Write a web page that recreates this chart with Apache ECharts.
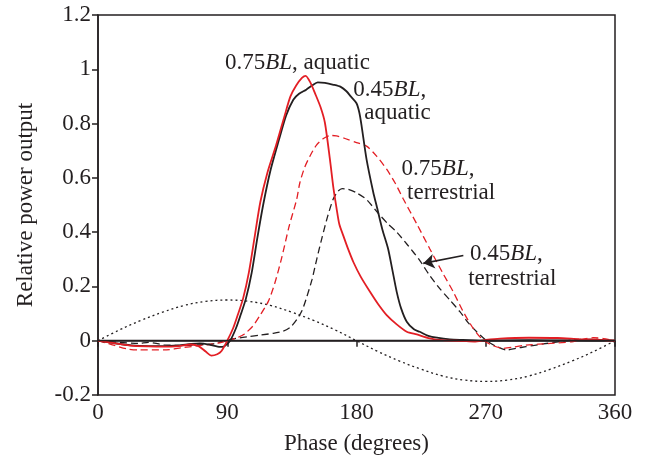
<!DOCTYPE html>
<html>
<head>
<meta charset="utf-8">
<script src="https://cdn.jsdelivr.net/npm/echarts@6/dist/echarts.min.js"></script>
<style>
html,body{margin:0;padding:0;background:#fff;}
#chart{width:647px;height:460px;}
</style>
</head>
<body>
<div id="chart"></div>
<script>
// ---- Data ----
const xTicks = [0, 90, 180, 270, 360];
const yTicks = [-0.2, 0, 0.2, 0.4, 0.6, 0.8, 1, 1.2];

// 0.75BL, aquatic (red solid)
const phaseAq75 = [0,10,23,35,46,56,65,70,75,79,83,86,90,94,97,101,105,109,113,118,124,130,134,138,142,144.6,148,151,155,158,161.5,164,166.2,168,170.8,174,177.8,183,189.4,195,201,208,215,222,231,240,254,262,270,280,300,320,335,350,360];
const powerAq75 = [0,-0.008,-0.018,-0.021,-0.022,-0.02,-0.014,-0.02,-0.04,-0.055,-0.05,-0.038,0,0.045,0.09,0.155,0.25,0.38,0.51,0.62,0.72,0.83,0.9,0.94,0.968,0.976,0.95,0.913,0.86,0.803,0.668,0.56,0.485,0.43,0.387,0.34,0.29,0.235,0.18,0.135,0.094,0.06,0.033,0.023,0.009,0.002,-0.001,-0.003,0.003,0.008,0.011,0.01,0.006,0.003,0];

// 0.45BL, aquatic (black solid)
const phaseAq45 = [0,10,23,35,46,56,65,71,78,85,88,92,96,99,103,107,111,115,120,126,131,136,140,145,149,153,158,164,169,173,176,180,182,183.6,187,191.7,194,198,202,205,208,211,215,220,224,230,236,245,254,270,300,330,360];
const powerAq45 = [0,-0.008,-0.017,-0.02,-0.02,-0.017,-0.012,-0.01,-0.015,-0.023,-0.02,0,0.045,0.09,0.155,0.25,0.38,0.5,0.625,0.74,0.83,0.888,0.91,0.925,0.94,0.952,0.95,0.943,0.935,0.919,0.9,0.875,0.84,0.79,0.668,0.546,0.497,0.41,0.339,0.26,0.18,0.12,0.07,0.042,0.033,0.018,0.011,0.005,0.003,0,0.002,0.001,0];

// 0.75BL, terrestrial (red dashed)
const phaseTe75 = [0,10,20,28,46,60,70,79,86,90,96,102,108,113,118.6,123,127.9,133,138.4,140.6,144,147.6,152,157,162,166,172,180,187,194,201,207,212.6,222,231,240,247.4,254,261.3,268,275,282,290,298,315,331,345,352,360];
const powerTe75 = [0,-0.015,-0.03,-0.034,-0.034,-0.025,-0.018,-0.013,-0.006,0,0.009,0.025,0.055,0.095,0.145,0.21,0.305,0.42,0.522,0.583,0.64,0.68,0.72,0.745,0.756,0.755,0.745,0.73,0.717,0.68,0.632,0.58,0.522,0.43,0.339,0.25,0.18,0.11,0.045,0.003,-0.018,-0.028,-0.023,-0.016,-0.01,-0.003,0.011,0.008,0];

// 0.45BL, terrestrial (black dashed)
const phaseTe45 = [0,15,28,35,46,60,70,80,88,96.6,105,112.8,122,129,134,138.4,142,145.3,149,152.3,156,160,163.8,167,170,174,180,187,195,202,208,216,224,231,238,245,252,258,263.7,270.6,277,284.6,291,298,310,331,345,360];
const powerTe45 = [0,-0.006,-0.01,-0.006,-0.015,-0.018,-0.015,-0.012,0,0.009,0.015,0.021,0.027,0.035,0.05,0.078,0.11,0.16,0.225,0.3,0.38,0.46,0.522,0.55,0.56,0.558,0.545,0.52,0.47,0.43,0.4,0.35,0.296,0.24,0.192,0.15,0.107,0.065,0.033,0,-0.02,-0.034,-0.028,-0.022,-0.012,0.003,0.005,0];

// Reference dotted curve
const phaseRef = [0,15,30,45,60,75,90,105,120,135,150,165,180,195,210,225,240,255,270,285,300,315,330,345,360];
const powerRef = [0,0.04,0.075,0.105,0.13,0.145,0.15,0.145,0.13,0.105,0.075,0.04,0,-0.04,-0.075,-0.105,-0.13,-0.145,-0.15,-0.145,-0.13,-0.105,-0.075,-0.04,0];

// Annotations: text + anchor in data coordinates (left edge, vertical middle)
const annoText = ['0.75{i|BL}, aquatic', '0.45{i|BL},', 'aquatic', '0.75{i|BL},', 'terrestrial', '0.45{i|BL},', 'terrestrial'];
const annoPhase = [88.4, 177.8, 185.4, 211.4, 215.2, 259, 257.8];
const annoPower = [1.024, 0.925, 0.84, 0.632, 0.546, 0.32, 0.229];
const arrowFrom = [254.4, 0.314];
const arrowTo = [226.5, 0.285];

// ---- Chart ----
const zip = (xs, ys) => xs.map((x, i) => [x, ys[i]]);
const RED = '#e31e24';
const INK = '#231f20';
const FONT = '"Liberation Serif", "Times New Roman", serif';

const chart = echarts.init(document.getElementById('chart'), null, {renderer: 'canvas'});

const lineBase = {type: 'line', symbol: 'none', smooth: 0.25};

const option = {
  animation: false,
  backgroundColor: '#fff',
  grid: {left: 98, right: 32, top: 15, bottom: 63, show: true, borderColor: INK, borderWidth: 1.5, backgroundColor: 'transparent'},
  xAxis: {
    type: 'value', min: xTicks[0], max: xTicks[xTicks.length - 1], interval: 90,
    name: 'Phase (degrees)', nameLocation: 'middle', nameGap: 37,
    nameTextStyle: {fontFamily: FONT, fontSize: 23, color: INK},
    axisLine: {show: true, lineStyle: {color: INK, width: 1.5}},
    axisTick: {show: true, inside: false, length: 6, lineStyle: {color: INK, width: 1.5}},
    axisLabel: {fontFamily: FONT, fontSize: 23, color: INK, margin: 6},
    splitLine: {show: false}
  },
  yAxis: {
    type: 'value', min: yTicks[0], max: yTicks[yTicks.length - 1], interval: 0.2,
    name: 'Relative power output', nameLocation: 'middle', nameGap: 61,
    nameTextStyle: {fontFamily: FONT, fontSize: 23, color: INK},
    axisLine: {show: true, lineStyle: {color: INK, width: 1.5}},
    axisTick: {show: true, inside: false, length: 6, lineStyle: {color: INK, width: 1.5}},
    axisLabel: {fontFamily: FONT, fontSize: 23, color: INK, margin: 7,
      formatter: v => String(Math.round(v * 10) / 10)},
    splitLine: {show: false}
  },
  series: [
    Object.assign({}, lineBase, {
      name: 'reference', data: zip(phaseRef, powerRef), smooth: 0.4,
      lineStyle: {color: INK, width: 1.3, type: [2, 3]},
      markLine: {
        silent: true, symbol: 'none', label: {show: false},
        lineStyle: {color: INK, width: 1.3, type: 'solid'},
        data: [{yAxis: 0}]
      }
    }),
    Object.assign({}, lineBase, {
      name: '0.45BL terrestrial', data: zip(phaseTe45, powerTe45),
      lineStyle: {color: INK, width: 1.3, type: [7, 4]},
      markLine: {
        silent: true, symbol: ['none', 'arrow'], symbolSize: 11, label: {show: false},
        lineStyle: {color: INK, width: 1.6, type: 'solid'},
        data: [[{coord: arrowFrom}, {coord: arrowTo}]]
      }
    }),
    Object.assign({}, lineBase, {
      name: '0.75BL terrestrial', data: zip(phaseTe75, powerTe75),
      lineStyle: {color: RED, width: 1.3, type: [7, 4]}
    }),
    Object.assign({}, lineBase, {
      name: '0.45BL aquatic', data: zip(phaseAq45, powerAq45),
      lineStyle: {color: INK, width: 1.8}
    }),
    Object.assign({}, lineBase, {
      name: '0.75BL aquatic', data: zip(phaseAq75, powerAq75),
      lineStyle: {color: RED, width: 1.8}
    })
  ]
};
chart.setOption(option);

const graphics = annoText.map((t, i) => {
  const p = chart.convertToPixel({gridIndex: 0}, [annoPhase[i], annoPower[i]]);
  return {
    type: 'text', x: p[0], y: p[1], z: 100, silent: true,
    style: {
      text: t, fill: INK, font: '23px ' + FONT, align: 'left', verticalAlign: 'middle',
      rich: {i: {fontStyle: 'italic', fontFamily: FONT, fontSize: 23, fill: INK, color: INK}}
    }
  };
});
chart.setOption({graphic: graphics});
</script>
</body>
</html>
